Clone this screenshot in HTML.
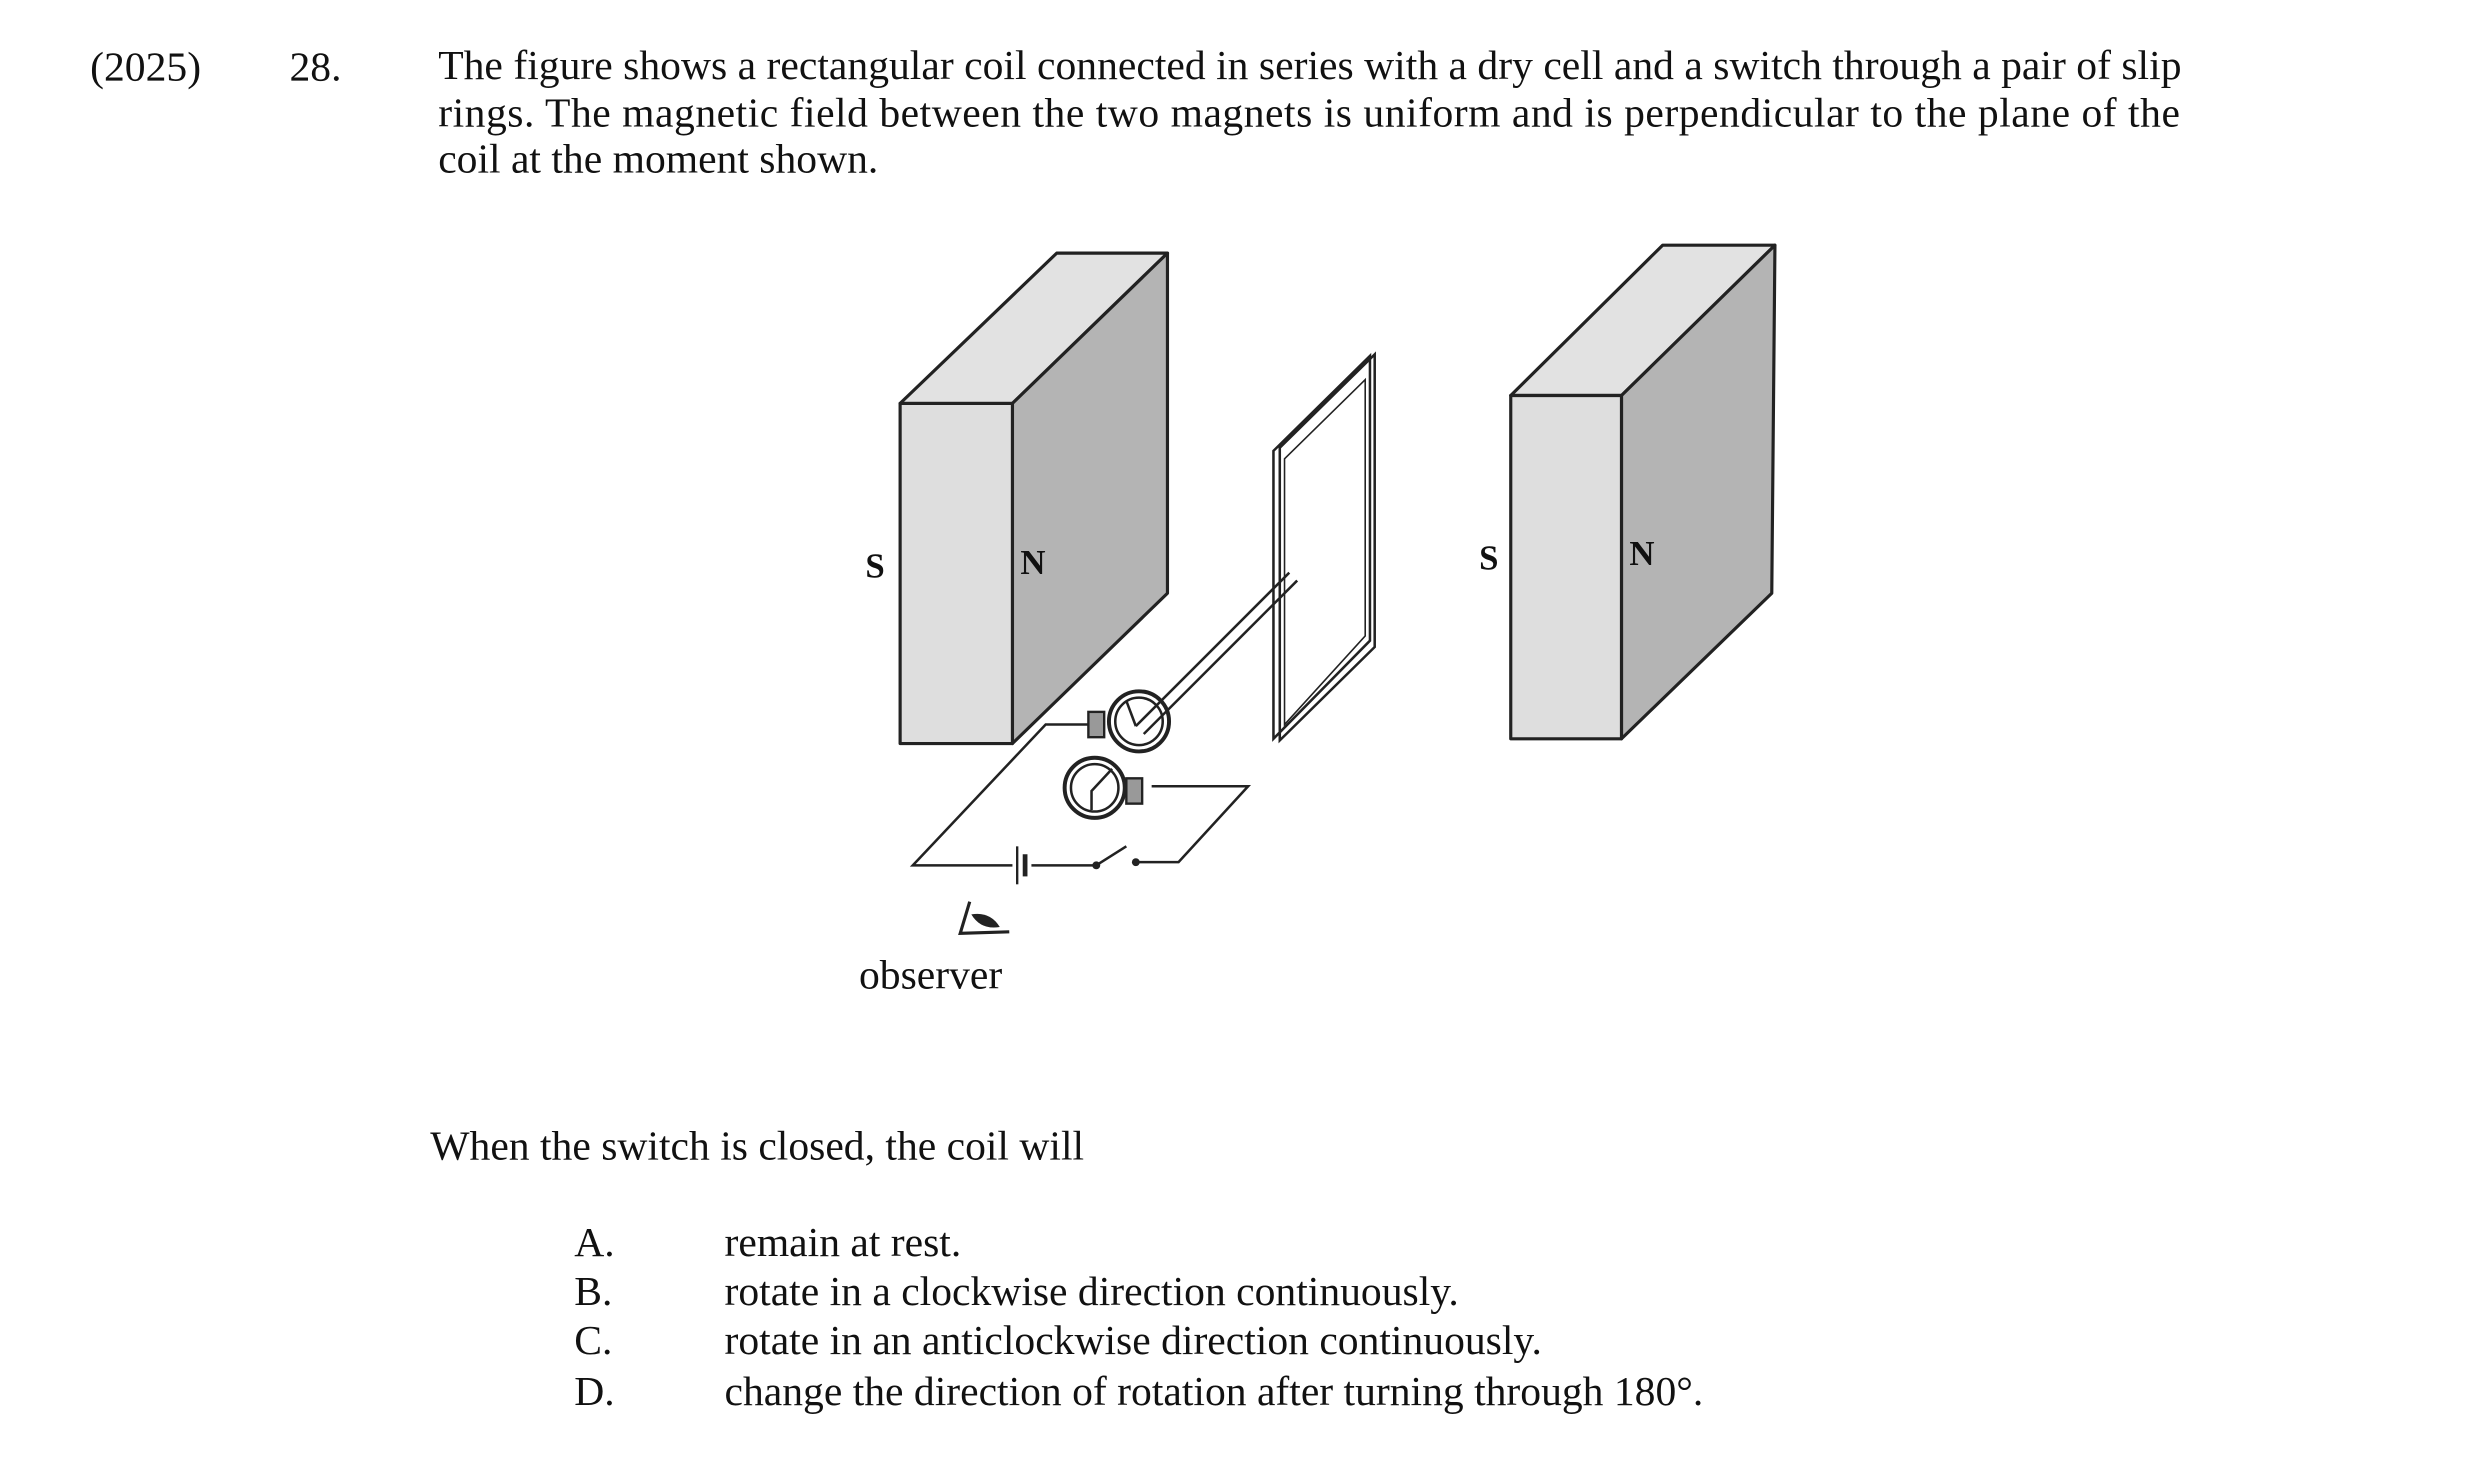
<!DOCTYPE html>
<html><head><meta charset="utf-8"><style>
html,body{margin:0;padding:0;background:#fff;}
svg{display:block}
text{font-family:"Liberation Serif",serif;fill:#111;}
</style></head><body>
<svg width="2480" height="1466" viewBox="0 0 1567.7 926.7" xmlns="http://www.w3.org/2000/svg">
<g font-size="26.3">
<text x="57" y="51">(2025)</text>
<text x="183" y="51">28.</text>
<text x="277" y="50" textLength="1102" lengthAdjust="spacing">The figure shows a rectangular coil connected in series with a dry cell and a switch through a pair of slip</text>
<text x="277" y="80" textLength="1101" lengthAdjust="spacing">rings.  The magnetic field between the two magnets is uniform and is perpendicular to the plane of the</text>
<text x="277" y="109">coil at the moment shown.</text>
<text x="272" y="733">When the switch is closed, the coil will</text>
<text x="363" y="794">A.</text><text x="458" y="794">remain at rest.</text>
<text x="363" y="825">B.</text><text x="458" y="825">rotate in a clockwise direction continuously.</text>
<text x="363" y="856">C.</text><text x="458" y="856">rotate in an anticlockwise direction continuously.</text>
<text x="363" y="888">D.</text><text x="458" y="888">change the direction of rotation after turning through 180°.</text>
<text x="543" y="625">observer</text>
</g>
<g stroke="#222" stroke-width="2" stroke-linejoin="round">
<polygon points="569,255 640,255 738,160 668,160" fill="#e2e2e2"/>
<polygon points="640,255 738,160 738,375 640,470" fill="#b4b4b4"/>
<polygon points="569,255 640,255 640,470 569,470" fill="#dedede"/>
<polygon points="955,250 1025,250 1122,155 1051,155" fill="#e2e2e2"/>
<polygon points="1025,250 1122,155 1120,375 1025,467" fill="#b4b4b4"/>
<polygon points="955,250 1025,250 1025,467 955,467" fill="#dedede"/>
</g>
<g font-size="22" font-weight="bold">
<text x="547" y="365">S</text><text x="645" y="363">N</text>
<text x="935" y="360">S</text><text x="1030" y="357">N</text>
</g>
<g fill="none" stroke="#222" stroke-width="1.6">
<polygon points="805,285 866,225 866,405 805,467"/>
<polygon points="809,283 869,224 869,409 809,468"/>
<polygon points="812,290 863,240 863,402 812,458" stroke-width="1"/>
<line x1="815" y1="362" x2="718" y2="459"/>
<line x1="820" y1="367" x2="723" y2="464"/>
<circle cx="720" cy="456" r="19" stroke-width="2.5"/>
<circle cx="720" cy="456" r="15"/>
<line x1="718" y1="459" x2="712" y2="443"/>
<circle cx="692" cy="498" r="19" stroke-width="2.5"/>
<circle cx="692" cy="498" r="15"/>
<polyline points="703,486 690,500 690,512"/>
<polyline points="690,458 661,458 577,547 640,547"/>
<polyline points="652,547 693,547"/>
<line x1="693" y1="547" x2="712" y2="535"/>
<polyline points="718,545 745,545 789,497 728,497"/>
<line x1="643" y1="535" x2="643" y2="559" stroke-width="1.5"/>
<line x1="648" y1="540" x2="648" y2="554" stroke-width="3"/>
</g>
<rect x="688" y="450" width="10" height="16" fill="#999" stroke="#222" stroke-width="1.5"/>
<rect x="712" y="492" width="10" height="16" fill="#999" stroke="#222" stroke-width="1.5"/>
<circle cx="693" cy="547" r="2.5" fill="#222"/><circle cx="718" cy="545" r="2.5" fill="#222"/>
<path d="M613,570 L607,590 L638,589" fill="none" stroke="#222" stroke-width="2"/>
<path d="M614,578 Q626,576 632,586 Q620,588 614,578Z" fill="#222"/>
</svg>
</body></html>
